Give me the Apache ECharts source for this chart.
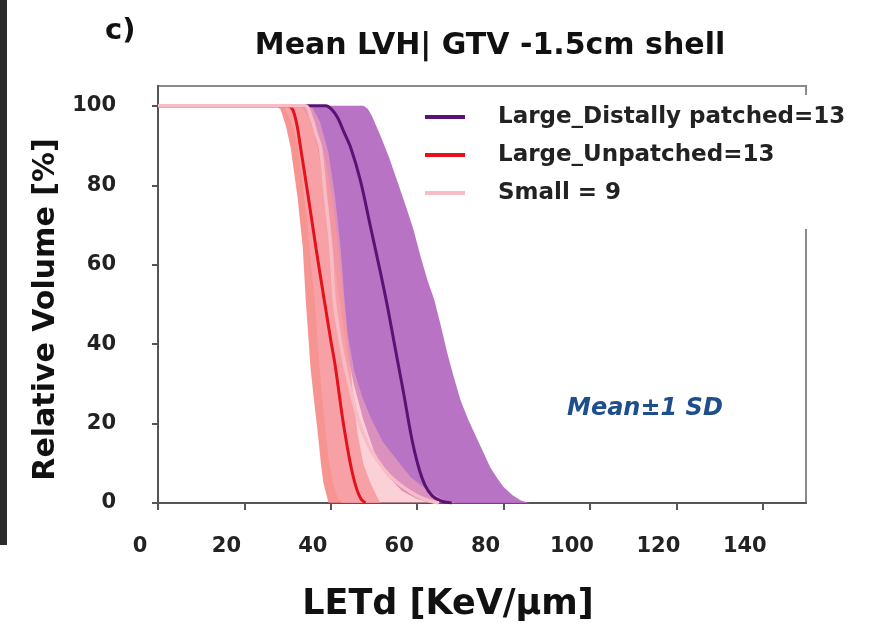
<!DOCTYPE html>
<html>
<head>
<meta charset="utf-8">
<title>Mean LVH | GTV -1.5cm shell</title>
<script src="https://cdn.jsdelivr.net/npm/echarts@6/dist/echarts.min.js"></script>
<style>
	html, body { margin: 0; padding: 0; background: #fff; }
	#lvhChart { width: 894px; height: 627px; }
</style>
</head>
<body>
<div id="lvhChart"></div>
<script>
// legend names
var seriesNames = ['Large_Distally patched=13', 'Large_Unpatched=13', 'Small = 9'];

// mean curves, [LETd, relative volume %]
var distalMean = [[0,100],[38.8,100],[40.3,99],[41.6,97],[43,93.5],[44.6,89.5],[46.9,81],[49.2,69.5],[51.5,58],[53.2,49],[54.9,39],[56.8,28],[58.6,17],[60.2,9.5],[61.8,4.5],[63.5,1.8],[65.5,0.5],[68,0]];
var unpatchedMean = [[0,100],[30,100],[31.2,99],[32.2,95],[33,89.5],[34.8,77],[36.6,64],[38.5,51],[40,41],[41.1,34],[42.7,21.5],[44,13],[44.9,8],[46,3.5],[47,1],[48,0]];
var smallMean = [[0,100],[34,100],[35.5,97],[36.6,93],[37.6,89.5],[38.8,77],[40,64.5],[40.8,51],[42,42],[43.4,34],[46.2,21.5],[48.5,15],[50.8,10.7],[53.5,7],[56.8,4],[60,1.8],[62.4,0.7],[65,0]];

// mean -1 SD (left edge) and mean +1 SD (right edge)
var distalLow = [[0,100],[33,100],[35,97],[36.8,90],[38.5,80],[40,68],[41.3,57],[42.5,47],[43.8,38],[45.3,30],[47.5,21],[50,13],[53,7],[56.5,3],[60,1],[63,0]];
var distalHigh = [[0,100],[47.6,100],[48.6,99.2],[49.5,97.5],[51.5,92.5],[53.5,87],[55.4,81],[57.3,75],[59.1,69],[60.8,62],[62.4,56],[64,51],[65.5,44.5],[66.9,38],[68.4,32],[70,26],[71.8,21],[73.5,17],[75.2,13],[76.9,9],[78.5,6.3],[80,4],[82,2],[84,0.6],[86,0]];
var unpatchedLow = [[0,100],[27,100],[27.8,99.6],[28.4,99],[29.6,95],[30.7,89.5],[32.3,77],[33.5,64.5],[34.2,51],[34.8,42],[35.3,34],[36.2,25],[37,17.5],[37.7,10],[38.3,5],[39,2],[39.5,0]];
var unpatchedHigh = [[0,100],[33.5,100],[35,98],[36.5,95],[38.5,88],[40.4,77],[41.8,64],[43,51],[44,40],[45,29],[46.2,17.5],[47.5,10],[49.2,5],[50.5,2],[51.5,0]];
var smallLow = [[0,100],[29,100],[30.5,97],[32,92],[33.3,82],[34.6,70],[35.6,58],[36.3,51],[37,40],[37.7,30],[38.6,20],[39.5,11],[40.5,5],[41.5,1.5],[42.5,0]];
var smallHigh = [[0,100],[35.5,100],[37.5,96],[39.5,88],[41,77],[42.3,64],[43.2,51],[43.9,42.5],[45.5,33],[47.2,27],[49.2,21.5],[52,15.5],[55.4,10.7],[58.5,6.5],[62.4,3.2],[66,0.8],[69,0]];

var lvh = {
	font: "'DejaVu Sans', 'Noto Sans', sans-serif",
	init: function(){
		var myChart = echarts.init(document.getElementById('lvhChart'));
		myChart.setOption(lvh.getOption());
	},
	// SD band = polygon between the two edges
	band: function(low, high, color, opacity){
		return {
			type: 'custom',
			silent: true,
			clip: true,
			data: [[0, 0]],
			renderItem: function(params, api){
				var pts = [];
				for (var i = 0; i < low.length; i++) pts.push(api.coord(low[i]));
				for (var j = high.length - 1; j >= 0; j--) pts.push(api.coord(high[j]));
				return {
					type: 'polygon',
					shape: { points: pts },
					style: { fill: color, opacity: opacity }
				};
			}
		};
	},
	meanLine: function(name, data, color, width){
		return {
			name: name,
			type: 'line',
			data: data,
			symbol: 'none',
			smooth: 0.3,
			z: 5,
			lineStyle: { color: color, width: width },
			itemStyle: { color: color }
		};
	},
	getOption: function(){
		var f = lvh.font;
		var option = {
			backgroundColor: '#fff',
			animation: false,
			textStyle: { fontFamily: f },
			title: [
				{
					text: 'Mean LVH| GTV -1.5cm shell',
					left: 485, top: 26, textAlign: 'center',
					textStyle: { fontFamily: f, fontSize: 30, fontWeight: 'bold', color: '#111' }
				},
				{
					text: 'c)',
					left: 100, top: 12,
					textStyle: { fontFamily: f, fontSize: 29, fontWeight: 'bold', color: '#111' }
				}
			],
			grid: {
				left: 158, top: 86, width: 648, height: 417,
				show: true, borderColor: '#8a8a8a', borderWidth: 2
			},
			legend: {
				data: seriesNames,
				orient: 'vertical',
				left: 415, top: 95,
				padding: [8, 10, 22, 10],
				backgroundColor: '#fff',
				icon: 'rect',
				itemWidth: 40, itemHeight: 4, itemGap: 10,
				textStyle: { fontFamily: f, fontSize: 23, fontWeight: 'bold', color: '#222', lineHeight: 28, padding: [0, 0, 0, 28] }
			},
			xAxis: {
				type: 'value', min: 0, max: 150, interval: 20,
				name: 'LETd [KeV/\u00b5m]', nameLocation: 'middle', nameGap: 84,
				nameTextStyle: { fontFamily: f, fontSize: 35, fontWeight: 'bold', color: '#111', padding: [0, 68, 0, 0] },
				axisLine: { lineStyle: { color: '#555', width: 2 } },
				axisTick: { length: 7, lineStyle: { color: '#555', width: 2 } },
				axisLabel: {
					margin: 33, fontSize: 21, fontWeight: 'bold', color: '#222', padding: [0, 36, 0, 0],
					showMaxLabel: false,
					formatter: function(v){ return v % 20 === 0 ? v : ''; }
				},
				splitLine: { show: false }
			},
			yAxis: {
				type: 'value', min: 0, max: 105, interval: 20,
				name: 'Relative Volume [%]', nameLocation: 'middle', nameGap: 96, nameRotate: 90,
				nameTextStyle: { fontFamily: f, fontSize: 30, fontWeight: 'bold', color: '#111', padding: [0, 30, 0, 0] },
				axisLine: { show: true, lineStyle: { color: '#555', width: 2 } },
				axisTick: { show: true, length: 6, lineStyle: { color: '#555', width: 2 } },
				axisLabel: {
					margin: 42, fontSize: 21, fontWeight: 'bold', color: '#222',
					showMaxLabel: false,
					formatter: function(v){ return v % 20 === 0 ? v : ''; }
				},
				splitLine: { show: false }
			},
			graphic: [
				{ type: 'rect', left: 0, top: 0, shape: { width: 7, height: 545 }, style: { fill: '#2b2b2b' } },
				{
					type: 'text', left: 567, top: 397,
					style: { text: 'Mean\u00b11 SD', fontFamily: f, fontSize: 24, fontWeight: 'bold', fontStyle: 'italic', fill: '#1f4e8c' }
				}
			],
			series: [
				lvh.band(distalLow, distalHigh, '#b46cc2', 0.95),
				lvh.band(unpatchedLow, unpatchedHigh, '#f4817e', 0.85),
				lvh.band(smallLow, smallHigh, '#f8aab6', 0.55),
				lvh.meanLine(seriesNames[0], distalMean, '#5a1372', 3),
				lvh.meanLine(seriesNames[1], unpatchedMean, '#e3121b', 3),
				lvh.meanLine(seriesNames[2], smallMean, '#f8bcc6', 3.5)
			]
		};
		return option;
	}
};

lvh.init();
</script>
</body>
</html>
